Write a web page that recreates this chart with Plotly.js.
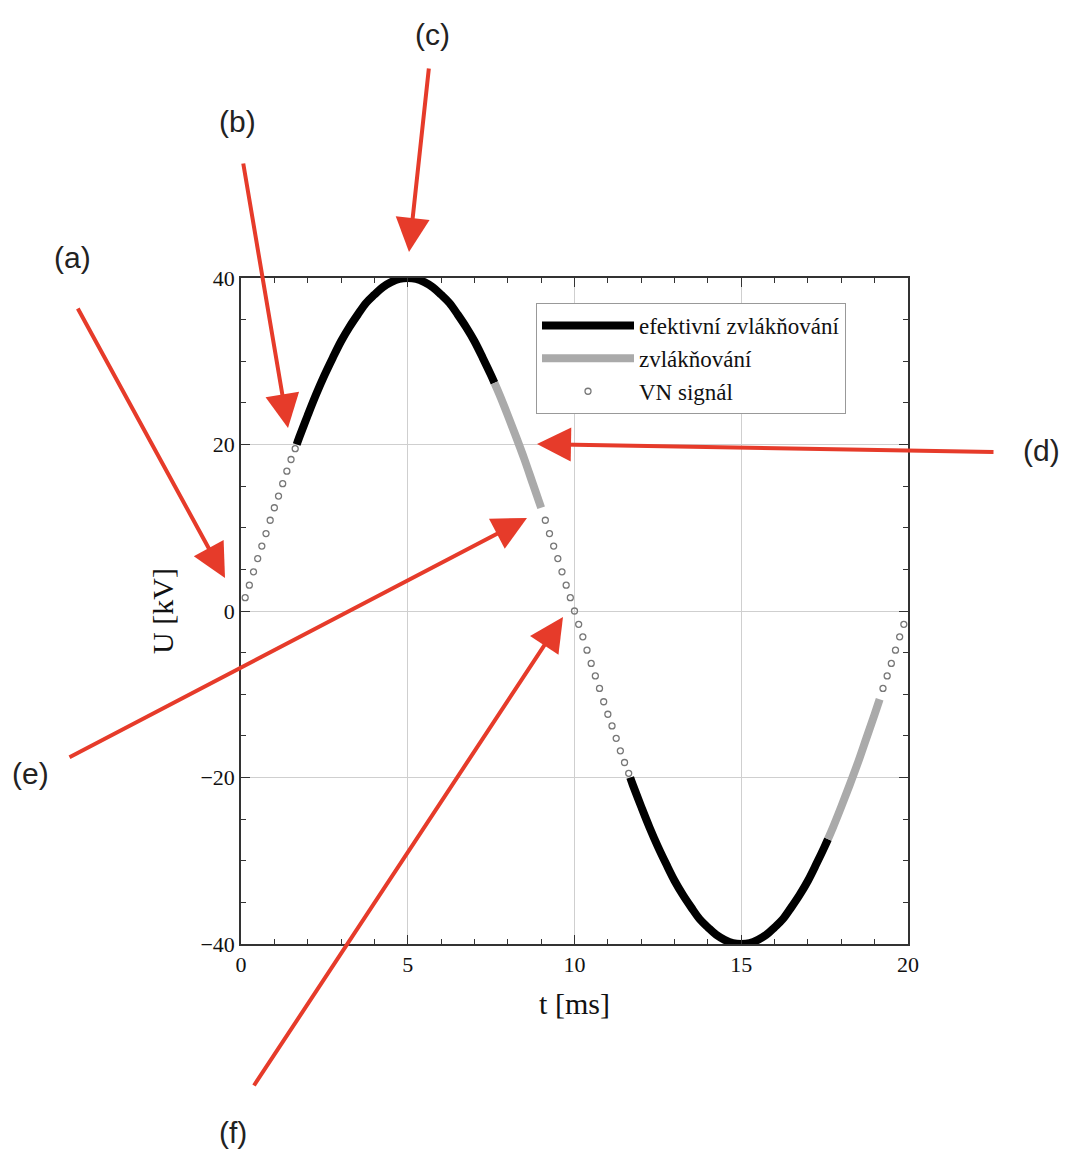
<!DOCTYPE html>
<html>
<head>
<meta charset="utf-8">
<script src="https://cdn.plot.ly/plotly-3.0.1.min.js"></script>
<style>
  body { margin: 0; background: #fff; }
  #chart { width: 1065px; height: 1153px; }
</style>
</head>
<body>
<div id="chart"></div>
<script>
// U(t), t in ms, U in kV

// VN signal (dots)
const tDots1 = [0.125, 0.25, 0.375, 0.5, 0.625, 0.75, 0.875, 1.0, 1.125, 1.25, 1.375, 1.5, 1.625];
const uDots1 = [1.6, 3.1, 4.7, 6.3, 7.8, 9.3, 10.9, 12.4, 13.8, 15.3, 16.8, 18.2, 19.5];
const tDots2 = [9.125, 9.25, 9.375, 9.5, 9.625, 9.75, 9.875, 10.0, 10.125, 10.25, 10.375,
                10.5, 10.625, 10.75, 10.875, 11.0, 11.125, 11.25, 11.375, 11.5, 11.625];
const uDots2 = [10.9, 9.3, 7.8, 6.3, 4.7, 3.1, 1.6, 0, -1.6, -3.1, -4.7,
                -6.3, -7.8, -9.3, -10.9, -12.4, -13.8, -15.3, -16.8, -18.2, -19.5];
const tDots3 = [19.25, 19.375, 19.5, 19.625, 19.75, 19.875];
const uDots3 = [-9.3, -7.8, -6.3, -4.7, -3.1, -1.6];

// efektivni zvlaknovani (black)
const tBlack1 = [1.67, 1.75, 2.0, 2.25, 2.5, 2.75, 3.0, 3.25, 3.5, 3.75, 4.0, 4.25, 4.5, 4.75, 5.0,
                 5.25, 5.5, 5.75, 6.0, 6.25, 6.5, 6.75, 7.0, 7.25, 7.5, 7.6];
const uBlack1 = [20.0, 20.9, 23.5, 26.0, 28.3, 30.4, 32.4, 34.1, 35.6, 37.0, 38.0, 38.9, 39.5, 39.9, 40.0,
                 39.9, 39.5, 38.9, 38.0, 37.0, 35.6, 34.1, 32.4, 30.4, 28.3, 27.4];
const tBlack2 = [11.67, 11.75, 12.0, 12.25, 12.5, 12.75, 13.0, 13.25, 13.5, 13.75, 14.0, 14.25, 14.5, 14.75, 15.0,
                 15.25, 15.5, 15.75, 16.0, 16.25, 16.5, 16.75, 17.0, 17.25, 17.5, 17.6];
const uBlack2 = [-20.0, -20.9, -23.5, -26.0, -28.3, -30.4, -32.4, -34.1, -35.6, -37.0, -38.0, -38.9, -39.5, -39.9, -40.0,
                 -39.9, -39.5, -38.9, -38.0, -37.0, -35.6, -34.1, -32.4, -30.4, -28.3, -27.4];

// zvlaknovani (grey)
const tGrey1 = [7.6, 7.75, 8.0, 8.25, 8.5, 8.75, 9.0];
const uGrey1 = [27.4, 26.0, 23.5, 20.9, 18.2, 15.3, 12.4];
const tGrey2 = [17.6, 17.75, 18.0, 18.25, 18.5, 18.75, 19.0, 19.15];
const uGrey2 = [-27.4, -26.0, -23.5, -20.9, -18.2, -15.3, -12.4, -10.6];

const seriesNames = ['efektivní zvlákňování', 'zvlákňování', 'VN signál'];

// join segments with a gap so each series is one legend entry
function joinSegs(...segs) {
    const out = [];
    segs.forEach((s, i) => {
        if (i > 0) out.push(null);
        out.push(...s);
    });
    return out;
}

const serif = 'Liberation Serif, Times New Roman, serif';
const sans = 'Liberation Sans, Arial, sans-serif';
const red = '#e63b2a';

const traces = [
    {
        x: joinSegs(tBlack1, tBlack2),
        y: joinSegs(uBlack1, uBlack2),
        type: 'scatter',
        mode: 'lines',
        name: seriesNames[0],
        line: { color: '#000', width: 8, shape: 'spline', smoothing: 1, simplify: false },
        connectgaps: false
    },
    {
        x: joinSegs(tGrey1, tGrey2),
        y: joinSegs(uGrey1, uGrey2),
        type: 'scatter',
        mode: 'lines',
        name: seriesNames[1],
        line: { color: '#aaaaaa', width: 8, shape: 'spline', smoothing: 1, simplify: false },
        connectgaps: false
    },
    {
        x: joinSegs(tDots1, tDots2, tDots3),
        y: joinSegs(uDots1, uDots2, uDots3),
        type: 'scatter',
        mode: 'markers',
        name: seriesNames[2],
        marker: { symbol: 'circle-open', size: 6, color: '#777', line: { width: 1.3, color: '#777' } }
    }
];

// plot box in page pixels
const L = 241, R = 908, T = 278, B = 944;
const px = X => (X - L) / (R - L);
const py = Y => (B - Y) / (B - T);

// red arrows: tip and tail in page pixels
const arrows = [
    { tip: [225, 578], tail: [77, 307] },
    { tip: [288, 428], tail: [243, 162] },
    { tip: [409, 252], tail: [429, 67] },
    { tip: [537, 444], tail: [995, 452] },
    { tip: [527, 518], tail: [68, 758] },
    { tip: [563, 617], tail: [253, 1087] }
];
const labels = [
    { text: '(a)', pos: [72, 257] },
    { text: '(b)', pos: [237, 122] },
    { text: '(c)', pos: [432, 35] },
    { text: '(d)', pos: [1041, 450] },
    { text: '(e)', pos: [30, 773] },
    { text: '(f)', pos: [233, 1132] }
];

const annotations = [];
arrows.forEach(a => {
    annotations.push({
        xref: 'paper', yref: 'paper',
        x: px(a.tip[0]), y: py(a.tip[1]),
        ax: a.tail[0] - a.tip[0], ay: a.tail[1] - a.tip[1],
        text: '',
        showarrow: true,
        arrowhead: 2,
        arrowsize: 1.7,
        arrowwidth: 4,
        arrowcolor: red
    });
});
labels.forEach(l => {
    annotations.push({
        xref: 'paper', yref: 'paper',
        x: px(l.pos[0]), y: py(l.pos[1]),
        xanchor: 'center', yanchor: 'middle',
        text: l.text,
        showarrow: false,
        font: { family: sans, size: 30, color: '#222' }
    });
});

const axisCommon = {
    showline: true,
    linecolor: '#333',
    linewidth: 1.5,
    mirror: 'ticks',
    ticks: 'inside',
    ticklen: 9,
    tickwidth: 1.2,
    tickcolor: '#333',
    showgrid: true,
    gridcolor: '#cfcfcf',
    gridwidth: 1,
    zeroline: false,
    tickfont: { family: serif, size: 22, color: '#111' }
};

const layout = {
    width: 1065,
    height: 1153,
    paper_bgcolor: '#fff',
    plot_bgcolor: '#fff',
    margin: { l: L, r: 1065 - R, t: T, b: 1153 - B },
    showlegend: true,
    legend: {
        x: px(536), y: py(303),
        xanchor: 'left', yanchor: 'top',
        bgcolor: '#fff',
        bordercolor: '#999',
        borderwidth: 1,
        itemwidth: 92,
        font: { family: serif, size: 23, color: '#111' }
    },
    xaxis: {
        ...axisCommon,
        range: [0, 20],
        dtick: 5,
        tick0: 0,
        minor: { dtick: 1, ticks: 'inside', ticklen: 5, tickcolor: '#333', showgrid: false },
        title: { text: 't [ms]', font: { family: serif, size: 30, color: '#111' }, standoff: 17 }
    },
    yaxis: {
        ...axisCommon,
        range: [-40, 40],
        dtick: 20,
        tick0: 0,
        minor: { dtick: 5, ticks: 'inside', ticklen: 5, tickcolor: '#333', showgrid: false },
        title: { text: 'U [kV]', font: { family: serif, size: 30, color: '#111' }, standoff: 18 }
    },
    annotations: annotations
};

Plotly.newPlot('chart', traces, layout, { displayModeBar: false, responsive: false });
</script>
</body>
</html>
